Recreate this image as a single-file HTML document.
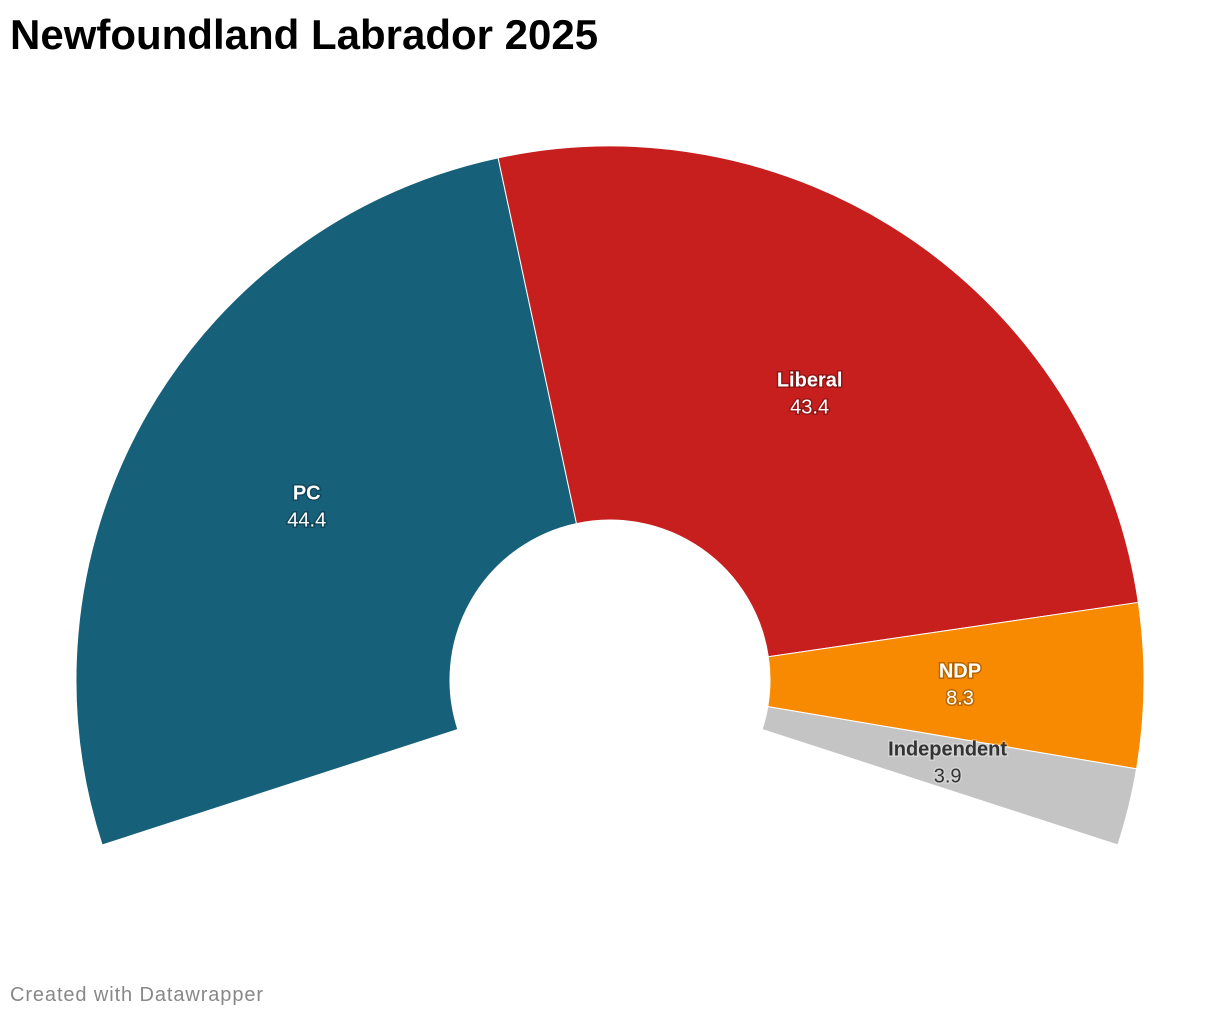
<!DOCTYPE html>
<html><head><meta charset="utf-8"><style>
body{margin:0;background:#fff;font-family:"Liberation Sans",sans-serif;}
#wrap{position:relative;width:1220px;height:1020px;overflow:hidden;}
h1{position:absolute;left:10px;top:11px;margin:0;font-size:42px;font-weight:bold;color:#000;letter-spacing:0px;}
#foot{position:absolute;left:10px;top:984px;font-size:20px;color:#888;letter-spacing:0.9px;}
</style></head><body>
<div id="wrap">
<h1>Newfoundland Labrador 2025</h1>
<svg id="chart" width="1220" height="1020" style="position:absolute;left:0;top:0"></svg>
<div id="foot">Created with Datawrapper</div>
</div>
<script>
const parties = ["PC","Liberal","NDP","Independent"];
const values = [44.4,43.4,8.3,3.9];
const labels = ["44.4","43.4","8.3","3.9"];
const colors = ["#17607a","#c71e1e","#f78a00","#c4c4c4"];
const textColors = ["#fff","#fff","#fff","#333"];
const cx=610, cy=680, R=534, r=160, span=216, start=-108, labR=350;
const svg=document.getElementById('chart');
const NS="http://www.w3.org/2000/svg";
const total=values.reduce((a,b)=>a+b,0);
function pt(rad,deg){const a=deg*Math.PI/180;return [cx+rad*Math.sin(a),cy-rad*Math.cos(a)];}
let a0=start;
values.forEach((v,i)=>{
  const a1=a0+v/total*span;
  const large=(a1-a0)>180?1:0;
  const p1=pt(R,a0),p2=pt(R,a1),p3=pt(r,a1),p4=pt(r,a0);
  const path=document.createElementNS(NS,'path');
  path.setAttribute('d',`M${p1[0]},${p1[1]} A${R},${R} 0 ${large} 1 ${p2[0]},${p2[1]} L${p3[0]},${p3[1]} A${r},${r} 0 ${large} 0 ${p4[0]},${p4[1]} Z`);
  path.setAttribute('fill',colors[i]);
  path.setAttribute('stroke','#fff');
  path.setAttribute('stroke-width','1');
  
  
  svg.appendChild(path);
  const m=(a0+a1)/2;
  let lp=pt(labR,m);
  if(i===3){lp=pt(labR,m-2);lp[0]-=5;lp[1]+=10;}
  const halo=textColors[i]==="#fff"?"#000":"#fff";
  const t1=document.createElementNS(NS,'text');
  t1.setAttribute('x',lp[0]);t1.setAttribute('y',lp[1]-6);
  t1.setAttribute('text-anchor','middle');t1.setAttribute('font-size','20');t1.setAttribute('font-weight','bold');
  t1.setAttribute('fill',textColors[i]);
  t1.setAttribute('style','paint-order:stroke;stroke:'+halo+';stroke-opacity:0.25;stroke-width:3px');
  t1.textContent=parties[i];
  
  
  svg.appendChild(t1);
  const t2=document.createElementNS(NS,'text');
  t2.setAttribute('x',lp[0]);t2.setAttribute('y',lp[1]+21);
  t2.setAttribute('text-anchor','middle');t2.setAttribute('font-size','20');
  t2.setAttribute('fill',textColors[i]);
  t2.setAttribute('style','paint-order:stroke;stroke:'+halo+';stroke-opacity:0.25;stroke-width:3px');
  t2.textContent=labels[i];
  
  
  svg.appendChild(t2);
  a0=a1;
});
</script>
</body></html>
